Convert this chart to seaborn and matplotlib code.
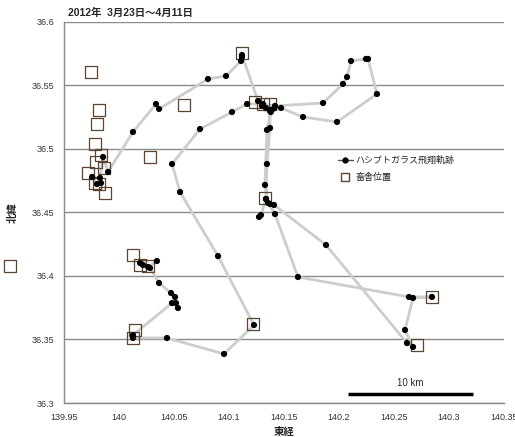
import pandas as pd
import seaborn as sns
import matplotlib.pyplot as plt
from matplotlib.lines import Line2D

# flight track of the crow (segment id, lon, lat)
track_seg = [1] * 52 + [2] * 20 + [3] * 3
track_lon = [
    139.9755, 139.9800, 139.9836, 139.9827, 139.9855, 139.9900, 140.0127, 140.0336,
    140.0364, 140.0809, 140.0973, 140.1109, 140.1118, 140.1118, 140.1264, 140.1300,
    140.1336, 140.1373, 140.1473, 140.1673, 140.1982, 140.2345, 140.2264, 140.2245,
    140.2109, 140.2073, 140.2036, 140.1855, 140.1418, 140.1309, 140.1164, 140.1027,
    140.0736, 140.0482, 140.0555, 140.0900, 140.1227, 140.0955, 140.0436, 140.0127,
    140.0127, 140.0482, 140.0536, 140.0518, 140.0509, 140.0473, 140.0364, 140.0282,
    140.0218, 140.0191, 140.0264, 140.0345,
    140.1373, 140.1373, 140.1345, 140.1336, 140.1373, 140.1409, 140.1882, 140.2618,
    140.2673, 140.2600, 140.2673, 140.2845, 140.2636, 140.1627, 140.1418, 140.1355,
    140.1327, 140.1345, 140.1380, 140.1410,
    140.1336, 140.1291, 140.1273,
]
track_lat = [
    36.4780, 36.4724, 36.4732, 36.4772, 36.4937, 36.4819, 36.5134, 36.5354,
    36.5315, 36.5551, 36.5575, 36.5693, 36.5724, 36.5740, 36.5378, 36.5339,
    36.5323, 36.5307, 36.5323, 36.5252, 36.5213, 36.5433, 36.5709, 36.5709,
    36.5693, 36.5567, 36.5512, 36.5362, 36.5339, 36.5354, 36.5354, 36.5291,
    36.5157, 36.4882, 36.4661, 36.4157, 36.3614, 36.3386, 36.3512, 36.3512,
    36.3535, 36.3787, 36.3748, 36.3787, 36.3835, 36.3866, 36.3945, 36.4063,
    36.4087, 36.4102, 36.4071, 36.4118,
    36.5299, 36.5165, 36.4882, 36.4606, 36.4567, 36.4559, 36.4244, 36.3472,
    36.3441, 36.3575, 36.3827, 36.3835, 36.3835, 36.3992, 36.4488, 36.4575,
    36.4717, 36.5150, 36.5291, 36.5320,
    36.4606, 36.4480, 36.4465,
]

# barn locations
barn_lon = [
    139.9009, 139.9745, 139.9818, 139.9800, 139.9782, 139.9836, 139.9791, 139.9864,
    139.9718, 139.9782, 139.9818, 139.9873, 140.0282, 140.0591, 140.1118, 140.1236,
    140.1309, 140.1373, 140.1327, 140.0127, 140.0191, 140.0264, 140.0145, 140.0127,
    140.1218, 140.2845, 140.2709,
]
barn_lat = [
    36.4079, 36.5606, 36.5307, 36.5197, 36.5039, 36.4953, 36.4898, 36.4850,
    36.4811, 36.4732, 36.4724, 36.4654, 36.4937, 36.5346, 36.5756, 36.5370,
    36.5354, 36.5354, 36.4614, 36.4165, 36.4087, 36.4079, 36.3575, 36.3512,
    36.3622, 36.3835, 36.3457,
]

x_ticks = [139.95, 140.0, 140.05, 140.1, 140.15, 140.2, 140.25, 140.3, 140.35]
x_labels = ['139.95', '140', '140.05', '140.1', '140.15', '140.2', '140.25', '140.3', '140.35']
y_ticks = [36.3, 36.35, 36.4, 36.45, 36.5, 36.55, 36.6]
y_labels = ['36.3', '36.35', '36.4', '36.45', '36.5', '36.55', '36.6']

scale_lon = [140.208, 140.3218]
scale_lat = 36.3071

title = '2012年  3月23日～4月11日'
track_name = 'ハシブトガラス飛翔軌跡'
barn_name = '畜舎位置'

sns.set_theme(style='white')
plt.rcParams['font.family'] = ['Liberation Sans', 'Noto Sans CJK JP', 'DejaVu Sans']

df_track = pd.DataFrame({'seg': track_seg, 'lon': track_lon, 'lat': track_lat})
df_barn = pd.DataFrame({'lon': barn_lon, 'lat': barn_lat})

fig = plt.figure(figsize=(5.15, 4.37), dpi=100)
ax = fig.add_axes([0.1243, 0.0778, 0.8543, 0.8719])

for y in y_ticks:
    ax.axhline(y, color='#8a8a8a', lw=1.0, zorder=0)

sns.lineplot(data=df_track, x='lon', y='lat', units='seg', estimator=None, sort=False,
             color='#cdcdcd', lw=2.0, ax=ax, legend=False, zorder=1)
sns.scatterplot(data=df_track, x='lon', y='lat', color='black', s=20, edgecolor='none',
                ax=ax, legend=False, zorder=3)
sns.scatterplot(data=df_barn, x='lon', y='lat', marker='s', s=80, ax=ax, legend=False,
                zorder=2, clip_on=False)
sq = ax.collections[-1]
sq.set_facecolor('none')
sq.set_edgecolor('#5a4630')
sq.set_linewidth(0.9)

ax.plot(scale_lon, [scale_lat, scale_lat], color='black', lw=2.5, solid_capstyle='butt')
ax.text(sum(scale_lon) / 2, scale_lat + 0.0045, '10 km', ha='center', va='bottom', fontsize=7)

ax.set_xlim(139.95, 140.35)
ax.set_ylim(36.3, 36.6)
ax.set_xticks(x_ticks)
ax.set_xticklabels(x_labels, fontsize=6.5)
ax.set_yticks(y_ticks)
ax.set_yticklabels(y_labels, fontsize=6.5)
ax.tick_params(axis='both', length=0, pad=7, colors='#333333')
for s in ['top', 'right']:
    ax.spines[s].set_visible(False)
for s in ['left', 'bottom']:
    ax.spines[s].set_color('#8a8a8a')
    ax.spines[s].set_linewidth(1.0)

ax.set_xlabel('東経', fontsize=7.5, fontweight='bold', labelpad=4)
ax.set_ylabel('北緯', fontsize=7.5, fontweight='bold', labelpad=10)
fig.text(68 / 515, 1 - 13 / 437, title, fontsize=7.5, fontweight='bold', va='center', ha='left')

handles = [
    Line2D([0], [0], color='#555555', lw=1.0, marker='o', markersize=3.5,
           markerfacecolor='black', markeredgecolor='black'),
    Line2D([0], [0], color='none', marker='s', markersize=6,
           markerfacecolor='none', markeredgecolor='#5a4630'),
]
ax.legend(handles, [track_name, barn_name], loc='upper left', bbox_to_anchor=(330 / 515, 1 - 148 / 437),
          bbox_transform=fig.transFigure, frameon=False, fontsize=6.5, handlelength=1.6,
          handletextpad=0.3, labelspacing=0.9)

fig.savefig('out.png', dpi=100)
